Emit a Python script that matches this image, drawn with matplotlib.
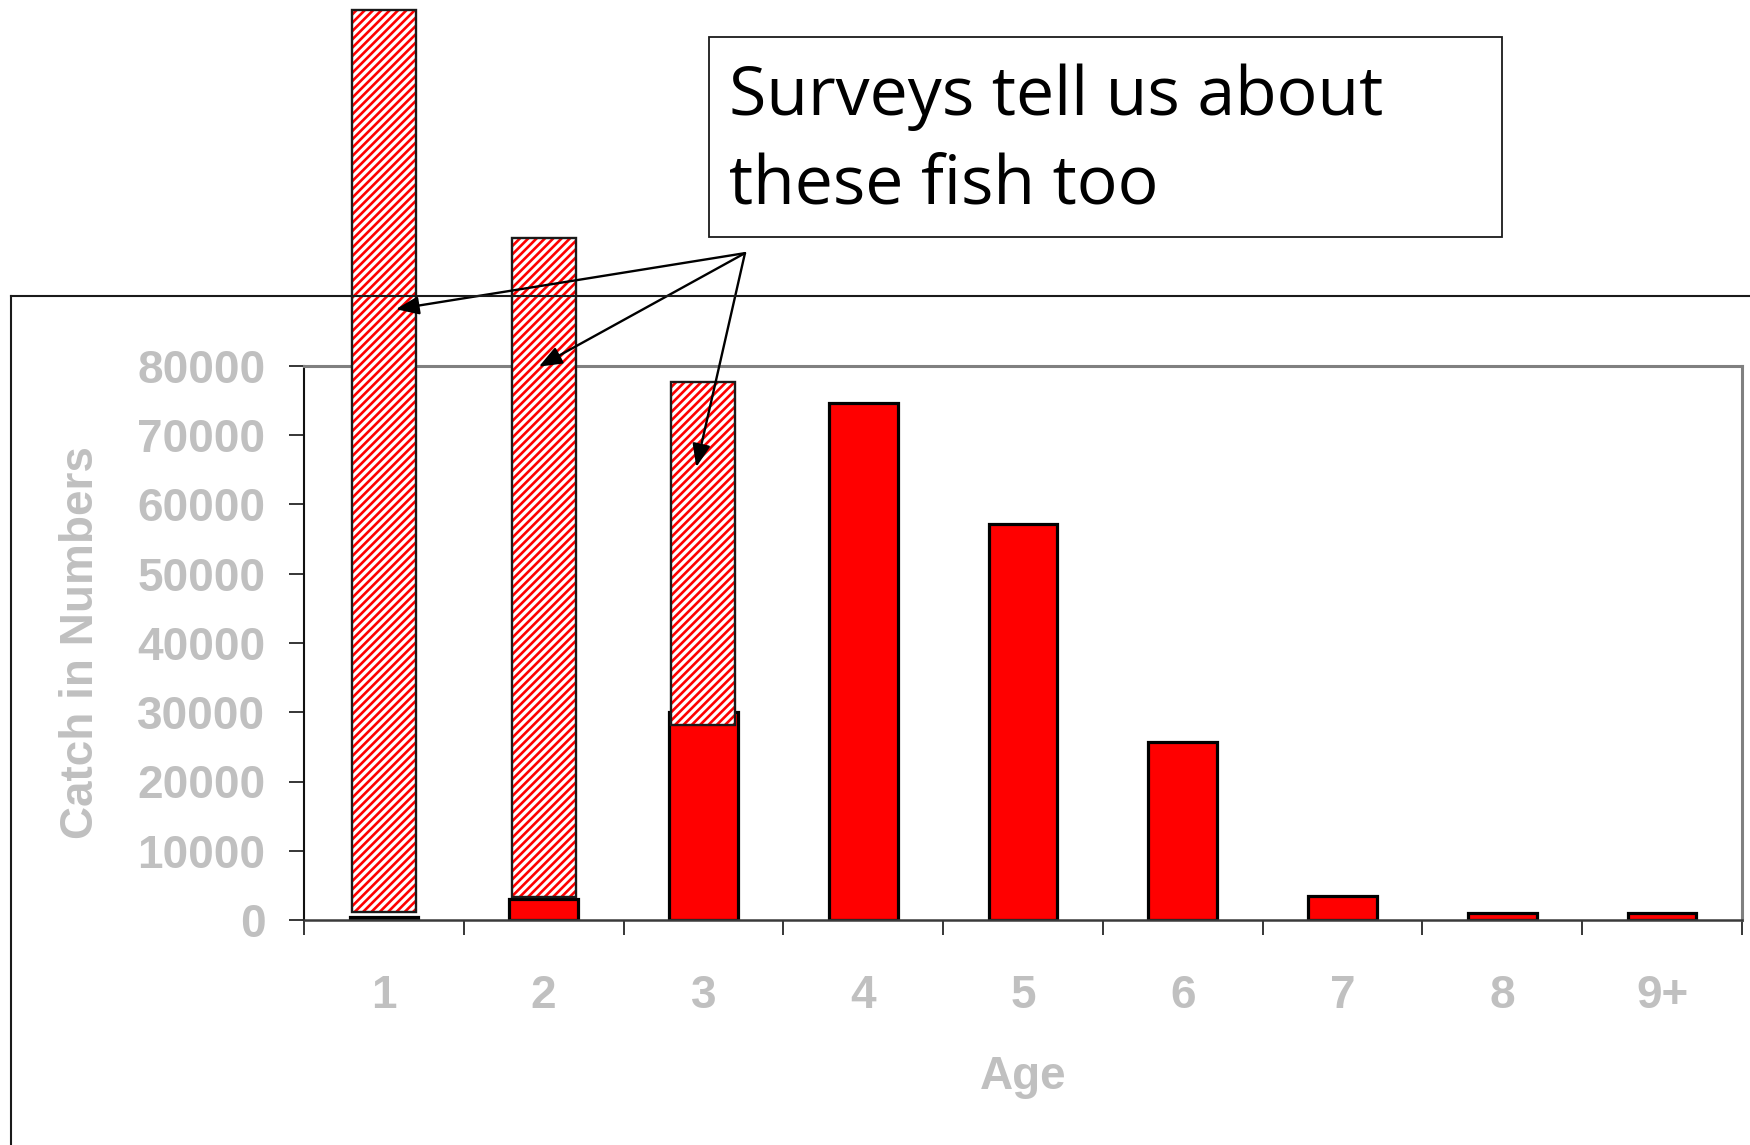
import numpy as np
import matplotlib
matplotlib.use("Agg")
import matplotlib.pyplot as plt
from matplotlib.lines import Line2D
from matplotlib.patches import Rectangle

# catch at age (numbers)
ages = ["1", "2", "3", "4", "5", "6", "7", "8", "9+"]
catch = [500, 3000, 30000, 74700, 57200, 25700, 3450, 1000, 1000]

# young fish seen by surveys but not (yet) in the catch
survey_ages = [0, 1, 2]
survey_base = [1200, 3300, 28200]
survey_top = [131400, 98500, 77700]

note_text = ["Surveys tell us about", "these fish too"]
arrow_tips = [(0.075, 88200), (0.97, 79900), (1.955, 65400)]
arrow_tail = (2.26, 96300)

W, H = 1750, 1145
fig = plt.figure(figsize=(W / 100, H / 100), dpi=100)
ax = fig.add_axes([304 / W, 1 - 920 / H, (1742 - 304) / W, (920 - 366) / H])

grey = "#c0c0c0"
x = np.arange(len(ages))

ax.bar(x, catch, width=0.43, color="#ff0000", edgecolor="black",
       linewidth=2.3, zorder=2)

# hatched survey bars: red hatch first, then the dark outline on top
heights = np.array(survey_top) - np.array(survey_base)
plt.rcParams["hatch.linewidth"] = 1.9
ax.bar(survey_ages, heights, bottom=survey_base, width=0.40, color="white",
       edgecolor="#ff0000", hatch="////", linewidth=0, zorder=3, clip_on=False)
ax.bar(survey_ages, heights, bottom=survey_base, width=0.40, fill=False,
       edgecolor="#1a1a1a", linewidth=1.7, zorder=4, clip_on=False)

ax.set_xlim(-0.5, len(ages) - 0.5)
ax.set_ylim(0, 80000)
ax.set_yticks(np.arange(0, 80001, 10000))
ax.set_xticks(np.arange(-0.5, len(ages), 1))
ax.set_xticklabels([])
ax.set_xticks(x, minor=True)
ax.set_xticklabels(ages, minor=True)

lab_font = dict(family="Liberation Sans", weight="bold", size=33, color=grey)
ax.tick_params(axis="y", direction="out", length=10.8, width=1.1,
               color="black", pad=17, labelsize=33, labelcolor=grey)
ax.tick_params(axis="x", which="major", direction="out", length=10.8,
               width=1.1, color="black")
ax.tick_params(axis="x", which="minor", length=0, pad=39, labelsize=33,
               labelcolor=grey)
for lbl in ax.get_yticklabels() + ax.get_xticklabels(minor=True):
    lbl.set_fontfamily("Liberation Sans")
    lbl.set_fontweight("bold")

ax.set_xlabel("Age", **lab_font)
ax.xaxis.set_label_coords(0.5, -0.283)
ax.xaxis.label.set_va("center")
ax.set_ylabel("Catch in Numbers", **lab_font)
ax.yaxis.set_label_coords(-0.155, 0.5)
ax.yaxis.label.set_va("center")

ax.spines["left"].set_linewidth(1.5)
ax.spines["left"].set_color("#111111")
ax.spines["bottom"].set_linewidth(1.8)
ax.spines["bottom"].set_color("#3a3a3a")
for s in ("top", "right"):
    ax.spines[s].set_linewidth(2.2)
    ax.spines[s].set_color("#808080")

# outer chart-area frame
fx = 11 / W
fy = 1 - 296 / H
fig.add_artist(Line2D([fx, fx], [0, fy], transform=fig.transFigure,
                      color="#1a1a1a", lw=1.5))
fig.add_artist(Line2D([fx, 1], [fy, fy], transform=fig.transFigure,
                      color="#1a1a1a", lw=1.5))

# note box with arrows
fig.add_artist(Rectangle((709 / W, 1 - 237 / H), (1502 - 709) / W,
                         (237 - 37) / H, transform=fig.transFigure,
                         facecolor="white", edgecolor="#1a1a1a", lw=1.3,
                         zorder=5))
for i, line in enumerate(note_text):
    fig.text(729 / W, 1 - (115 + 89 * i) / H, line, family="Open Sans",
             size=49, va="baseline", ha="left", zorder=6)

for tip in arrow_tips:
    ax.annotate("", xy=tip, xytext=arrow_tail, xycoords="data",
                annotation_clip=False,
                arrowprops=dict(arrowstyle="-|>,head_length=1.4,head_width=0.55",
                                color="black", lw=1.7, shrinkA=0, shrinkB=0),
                zorder=7)

fig.savefig("out.png", dpi=100)
